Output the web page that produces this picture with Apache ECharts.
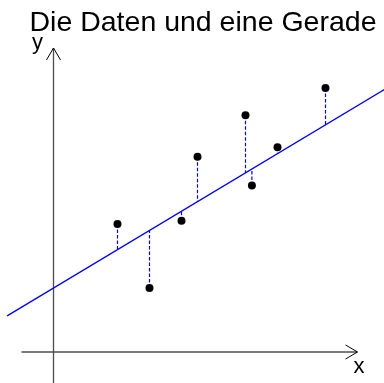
<!DOCTYPE html>
<html>
<head>
<meta charset="utf-8">
<script src="https://cdn.jsdelivr.net/npm/echarts@6/dist/echarts.min.js"></script>
<style>html,body{margin:0;padding:0;background:#fff}#c{width:384px;height:383px}</style>
</head>
<body>
<div id="c"></div>
<script>
// data points
var pointX = [2, 3, 4, 4.5, 6, 6.2, 7, 8.5];
var pointY = [4.0, 2.0, 4.1, 6.1, 7.4, 5.2, 6.4, 8.25];
// fitted straight line y = intercept + slope * x, drawn between these x values
var lineIntercept = 2.0;
var lineSlope = 0.6;
var lineXRange = [-1.45, 10.5];
// coordinate axes (drawn as arrows)
var xAxisRange = [-1, 9.5];
var yAxisRange = [-1.2, 9.5];
var titleText = 'Die Daten und eine Gerade';
var xName = 'x';
var yName = 'y';

var fit = function (x) { return lineIntercept + lineSlope * x; };
var series = [];
// axes
series.push({type:'line', data:[[xAxisRange[0],0],[xAxisRange[1],0]], symbol:'none', silent:true,
  lineStyle:{color:'#4d4d4d', width:1.3}});
series.push({type:'line', data:[[0,yAxisRange[0]],[0,yAxisRange[1]]], symbol:'none', silent:true,
  lineStyle:{color:'#4d4d4d', width:1.3}});
// arrow heads
var ax = 0.375, ay = 0.22;
series.push({type:'line', data:[[xAxisRange[1]-ax, ay],[xAxisRange[1],0],[xAxisRange[1]-ax,-ay]], symbol:'none', silent:true,
  lineStyle:{color:'#000', width:1}});
series.push({type:'line', data:[[-ay, yAxisRange[1]-ax],[0,yAxisRange[1]],[ay, yAxisRange[1]-ax]], symbol:'none', silent:true,
  lineStyle:{color:'#000', width:1}});
// residuals
pointX.forEach(function (x, i) {
  series.push({type:'line', data:[[x, pointY[i]],[x, fit(x)]], symbol:'none', silent:true,
    itemStyle:{color:'#0000ff'},
    lineStyle:{color:'#0000ff', width:1.2, type:[3.5,2], opacity:1}});
});
// fitted line
series.push({type:'line', data:lineXRange.map(function(x){return [x, fit(x)];}), symbol:'none', silent:true,
  lineStyle:{color:'#0000ff', width:1.3}});
// points
series.push({type:'scatter', data:pointX.map(function(x,i){return [x, pointY[i]];}), symbol:'circle', symbolSize:8,
  itemStyle:{color:'#000', opacity:1}, silent:true, z:10});

var chart = echarts.init(document.getElementById('c'), null, {renderer:'canvas'});
chart.setOption({
  animation:false,
  grid:{left:0, right:0, top:0, bottom:0},
  xAxis:{type:'value', min:-1.672, max:10.328, show:false},
  yAxis:{type:'value', min:-0.969, max:11, show:false},
  series:series,
  graphic:[
    {type:'text', x:29.5, y:23, style:{text:titleText, font:'28.5px "Liberation Sans", Arial, sans-serif', fill:'#000', textVerticalAlign:'middle'}},
    {type:'text', x:37.5, y:43, style:{text:yName, font:'22px "Liberation Sans", Arial, sans-serif', fill:'#000', textAlign:'center', textVerticalAlign:'middle'}},
    {type:'text', x:359, y:367, style:{text:xName, font:'22px "Liberation Sans", Arial, sans-serif', fill:'#000', textAlign:'center', textVerticalAlign:'middle'}}
  ]
});
</script>
</body>
</html>
